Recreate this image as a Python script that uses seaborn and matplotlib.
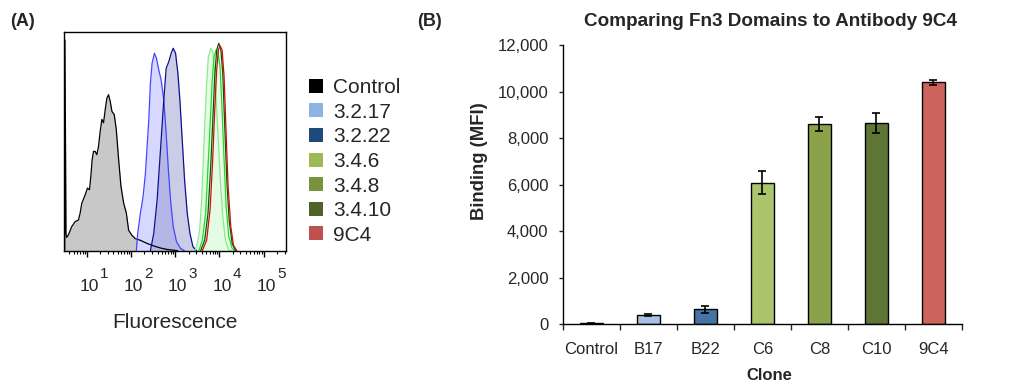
import numpy as np
import pandas as pd
import matplotlib
matplotlib.use("Agg")
import matplotlib.pyplot as plt
import matplotlib.transforms as mtransforms
from matplotlib.patches import Patch
from matplotlib.ticker import LogLocator, NullFormatter, FixedLocator
import seaborn as sns

# ---------------- Panel A data: histogram traces (log10 fluorescence, % of max) ----------------
control_x = [0.500, 0.505, 0.530, 0.545, 0.583, 0.659, 0.735, 0.811, 0.848, 0.886, 0.962, 1.015,
             1.061, 1.091, 1.121, 1.152, 1.189, 1.227, 1.265, 1.303, 1.341, 1.379, 1.417, 1.455,
             1.492, 1.530, 1.568, 1.621, 1.667, 1.720, 1.773, 1.833, 1.894, 1.947, 2.023, 2.098,
             2.212, 2.364, 2.515, 2.667, 2.818, 2.970, 3.05]
control_y = [0.0, 101.6, 8.0, 6.4, 7.6, 11.6, 14.0, 14.8, 18.0, 22.8, 26.9, 30.2,
             29.4, 35.8, 43.9, 47.9, 47.9, 46.3, 50.3, 57.6, 63.3, 61.7, 68.1, 73.6,
             75.2, 72.0, 67.2, 65.6, 58.4, 43.9, 31.0, 23.0, 18.2, 9.8, 7.4, 5.8,
             5.0, 3.5, 2.3, 1.3, 0.6, 0.2, 0.0]

c3217_x = [2.121, 2.152, 2.212, 2.273, 2.326, 2.364, 2.402, 2.439, 2.477, 2.530, 2.576, 2.629,
           2.682, 2.742, 2.795, 2.841, 2.894, 2.955, 3.030, 3.121, 3.212]
c3217_y = [0.0, 8.4, 18.0, 26.0, 37.3, 50.2, 63.0, 80.7, 90.4, 95.2, 92.8, 87.1,
           82.3, 72.7, 56.6, 40.5, 24.4, 11.6, 4.3, 1.1, 0.0]

c3222_x = [2.439, 2.515, 2.591, 2.667, 2.742, 2.795, 2.856, 2.909, 2.955, 3.008, 3.061, 3.106,
           3.159, 3.212, 3.273, 3.333, 3.402, 3.485]
c3222_y = [0.0, 8.4, 24.4, 48.6, 72.7, 87.9, 91.2, 95.2, 97.6, 95.2, 85.5, 72.7,
           53.4, 34.1, 18.0, 8.4, 1.9, 0.0]

c346_x = [3.447, 3.500, 3.553, 3.598, 3.636, 3.674, 3.712, 3.750, 3.803, 3.848, 3.894, 3.939,
          3.985, 4.030, 4.076, 4.136, 4.212, 4.273]
c346_y = [0.0, 3.5, 9.8, 24.4, 43.7, 63.0, 80.7, 93.5, 97.6, 96.0, 85.5, 67.8,
          48.6, 30.9, 16.4, 5.1, 0.3, 0.0]

c348_x = [3.538, 3.614, 3.689, 3.742, 3.788, 3.833, 3.879, 3.924, 3.970, 4.015, 4.061, 4.106,
          4.152, 4.212, 4.288, 4.348]
c348_y = [0.0, 5.1, 18.0, 40.5, 59.8, 80.7, 93.6, 96.8, 95.2, 88.7, 67.8, 43.7,
          21.2, 6.8, 1.1, 0.0]

c3410_x = [3.576, 3.667, 3.742, 3.803, 3.848, 3.894, 3.939, 3.985, 4.030, 4.076, 4.121, 4.167,
           4.220, 4.288, 4.364]
c3410_y = [0.0, 5.1, 18.0, 40.5, 61.4, 83.9, 96.8, 100.0, 97.6, 85.5, 59.8, 34.1,
           14.8, 3.5, 0.0]

c9c4_x = [3.614, 3.712, 3.788, 3.848, 3.894, 3.939, 3.977, 4.015, 4.061, 4.106, 4.152, 4.197,
          4.258, 4.318, 4.394]
c9c4_y = [0.0, 5.1, 19.6, 43.7, 67.8, 87.1, 96.8, 98.7, 96.8, 83.9, 56.6, 30.9,
          11.6, 2.7, 0.0]

legend_labels = ["Control", "3.2.17", "3.2.22", "3.4.6", "3.4.8", "3.4.10", "9C4"]
legend_colors = ["#000000", "#8DB3E2", "#1F497D", "#9BBB59", "#77933C", "#4F6228", "#C0504D"]
decade_ticks = [1, 2, 3, 4, 5]

# ---------------- Panel B data ----------------
clones = ["Control", "B17", "B22", "C6", "C8", "C10", "9C4"]
binding = [40, 400, 640, 6080, 8600, 8660, 10390]
binding_err = [10, 40, 150, 500, 300, 430, 110]
bar_colors = ["#404040", "#A7C1E3", "#4672A6", "#ABC56C", "#8AA24A", "#5F7536", "#CD635D"]
y_ticks = [0, 2000, 4000, 6000, 8000, 10000, 12000]

# ---------------- Styling ----------------
sns.set_style("ticks")
plt.rcParams["font.family"] = ["Liberation Sans", "DejaVu Sans"]
plt.rcParams["axes.linewidth"] = 1.0

W, H = 1029, 385
fig = plt.figure(figsize=(W / 100, H / 100), dpi=100)

def fx(px):
    return px / W

def fy(py):
    return 1 - py / H

# ---------------- Panel A ----------------
axA = fig.add_axes([fx(64), fy(250.7), fx(285.7) - fx(64), fy(32.3) - fy(250.7)])
axA.set_xscale("log")

traces = [
    (control_x, control_y, "#000000", "#C8C8C8", 1.0),
    (c3217_x, c3217_y, "#4646FF", "#D6D8FF", 1.0),
    (c3222_x, c3222_y, "#10108C", "#8C90C8", 0.45),
    (c346_x, c346_y, "#86EE86", "#E4FBE4", 0.9),
    (c348_x, c348_y, "#22DD22", "#E4FBE4", 0.5),
    (c3410_x, c3410_y, "#005A00", "#E4FBE4", 0.3),
    (c9c4_x, c9c4_y, "#CC1010", "#FFFFFF", 0.0),
]
for xs, ys, lc, fc, fa in traces:
    xv = 10 ** np.array(xs)
    yv = np.array(ys)
    if fa > 0:
        axA.fill_between(xv, 0, yv, color=fc, alpha=fa, linewidth=0)
    df = pd.DataFrame({"x": xv, "y": yv})
    sns.lineplot(data=df, x="x", y="y", ax=axA, color=lc, linewidth=0.9,
                 sort=False, estimator=None)

axA.set_xlim(10 ** 0.484, 10 ** 5.5)
axA.set_ylim(0, 105.3)
axA.set_yticks([])
axA.set_xlabel("")
axA.set_ylabel("")
axA.xaxis.set_major_locator(FixedLocator([10.0 ** k for k in decade_ticks]))
axA.xaxis.set_minor_locator(LogLocator(base=10, subs=np.arange(2, 10), numticks=30))
axA.xaxis.set_major_formatter(NullFormatter())
axA.xaxis.set_minor_formatter(NullFormatter())
axA.tick_params(axis="x", which="major", direction="out", length=4.5, width=1.0, color="black")
axA.tick_params(axis="x", which="minor", direction="out", length=2.5, width=0.8, color="black")
for sp in axA.spines.values():
    sp.set_visible(True)
    sp.set_color("black")
    sp.set_linewidth(1.0)

base_tr = mtransforms.blended_transform_factory(axA.transData, axA.transAxes)
for k in decade_ticks:
    t1 = mtransforms.offset_copy(base_tr, fig=fig, x=2.5, y=-40, units="dots")
    axA.text(10.0 ** k, 0, "10", transform=t1, ha="center", va="baseline", fontsize=12.5)
    t2 = mtransforms.offset_copy(base_tr, fig=fig, x=13.5, y=-27.5, units="dots")
    axA.text(10.0 ** k, 0, str(k), transform=t2, ha="left", va="baseline", fontsize=11)

fig.text(fx(174.8), fy(328), "Fluorescence", ha="center", va="baseline", fontsize=15)
fig.text(fx(10), fy(26.5), "(A)", ha="left", va="baseline", fontsize=13, fontweight="bold")

handles = [Patch(facecolor=c, edgecolor="none") for c in legend_colors]
fig.legend(handles, legend_labels, loc="upper left", bbox_to_anchor=(fx(309), fy(78)),
           frameon=False, fontsize=15, handlelength=0.65, handleheight=0.65,
           handletextpad=0.5, labelspacing=0.27, borderpad=0, borderaxespad=0)

# ---------------- Panel B ----------------
axB = fig.add_axes([fx(563), fy(324.3), fx(961.7) - fx(563), fy(45) - fy(324.3)])
dfB = pd.DataFrame({"clone": clones, "binding": binding})
sns.barplot(data=dfB, x="clone", y="binding", hue="clone", palette=bar_colors,
            order=clones, hue_order=clones, legend=False, width=0.40, saturation=1,
            edgecolor="black", linewidth=1.0, errorbar=None, ax=axB)
axB.errorbar(np.arange(len(clones)), binding, yerr=binding_err, fmt="none",
             ecolor="black", elinewidth=1.2, capsize=3.0, capthick=1.2, zorder=5)

axB.set_xlim(-0.5, len(clones) - 0.5)
axB.set_ylim(0, 12000)
axB.set_yticks(y_ticks)
axB.set_yticklabels([f"{v:,}" for v in y_ticks], fontsize=12)
axB.set_xticks(np.arange(-0.5, len(clones), 1.0))
axB.set_xticklabels([])
axB.set_xticks(np.arange(len(clones)), minor=True)
axB.set_xticklabels(clones, minor=True, fontsize=12)
axB.tick_params(axis="x", which="major", direction="out", length=4.5, width=1.0)
axB.tick_params(axis="x", which="minor", length=0, pad=12.5)
axB.tick_params(axis="y", direction="out", length=3, width=1.0, pad=7.5)
axB.set_xlabel("")
axB.set_ylabel("")
sns.despine(ax=axB)
for sp in ["left", "bottom"]:
    axB.spines[sp].set_color("black")
    axB.spines[sp].set_linewidth(1.0)

fig.text(fx(771), fy(25.5), "Comparing Fn3 Domains to Antibody 9C4", ha="center",
         va="baseline", fontsize=13.6, fontweight="bold")
fig.text(fx(479.5), fy(160.8), "Binding (MFI)", ha="center", va="center", rotation=90,
         fontsize=13.3, fontweight="bold")
fig.text(fx(769), fy(379.5), "Clone", ha="center", va="baseline", fontsize=12,
         fontweight="bold")
fig.text(fx(417), fy(26.5), "(B)", ha="left", va="baseline", fontsize=13, fontweight="bold")

fig.savefig("out.png", dpi=100)
